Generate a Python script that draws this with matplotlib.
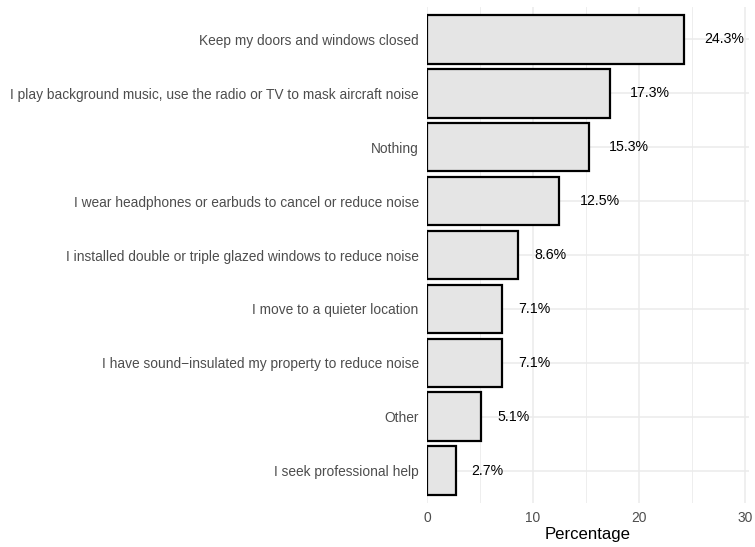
import matplotlib.pyplot as plt
from matplotlib.transforms import offset_copy

# answers, from top to bottom as shown
categories = [
    "Keep my doors and windows closed",
    "I play background music, use the radio or TV to mask aircraft noise",
    "Nothing",
    "I wear headphones or earbuds to cancel or reduce noise",
    "I installed double or triple glazed windows to reduce noise",
    "I move to a quieter location",
    "I have sound\u2212insulated my property to reduce noise",
    "Other",
    "I seek professional help",
]
percentages = [24.3, 17.3, 15.3, 12.5, 8.6, 7.1, 7.1, 5.1, 2.7]
x_ticks = [0, 10, 20, 30]
x_minor = [5, 15, 25]

plt.rcParams["font.family"] = ["Liberation Sans", "DejaVu Sans"]

fig = plt.figure(figsize=(7.55, 5.47), dpi=100)
ax = fig.add_axes([427 / 755, 44 / 547, 322 / 755, 496 / 547])

n = len(categories)
ypos = list(range(n, 0, -1))  # top item gets highest y

# grid first so it sits behind the bars
for x in x_minor:
    ax.axvline(x, color="#EBEBEB", lw=0.6, zorder=0)
for x in x_ticks:
    ax.axvline(x, color="#EBEBEB", lw=1.15, zorder=0)
for y in ypos:
    ax.axhline(y, color="#EBEBEB", lw=1.15, zorder=0)

ax.barh(ypos, percentages, height=0.9, color="#E5E5E5",
        edgecolor="black", linewidth=1.6, zorder=2)

# value labels, pushed right by half their own width (like hjust = -0.5)
fig.canvas.draw()
renderer = fig.canvas.get_renderer()
for y, v in zip(ypos, percentages):
    t = ax.text(v, y, f"{v}%", ha="left", va="center", fontsize=10.2,
                color="black", zorder=3)
    w = t.get_window_extent(renderer).width
    t.set_transform(offset_copy(ax.transData, fig=fig, x=w / 2, y=0, units="dots"))

ax.set_xlim(0, 30.4)
ax.set_ylim(0.4, n + 0.6)
ax.set_xticks(x_ticks)
ax.set_yticks(ypos)
ax.set_yticklabels(categories)
ax.tick_params(axis="both", length=0, labelsize=9.95, labelcolor="#4D4D4D")
ax.tick_params(axis="y", pad=6)
ax.tick_params(axis="x", pad=6)
ax.set_xlabel("Percentage", fontsize=12.1, color="black", labelpad=1)

for s in ax.spines.values():
    s.set_visible(False)

plt.savefig("out.png", dpi=100)
